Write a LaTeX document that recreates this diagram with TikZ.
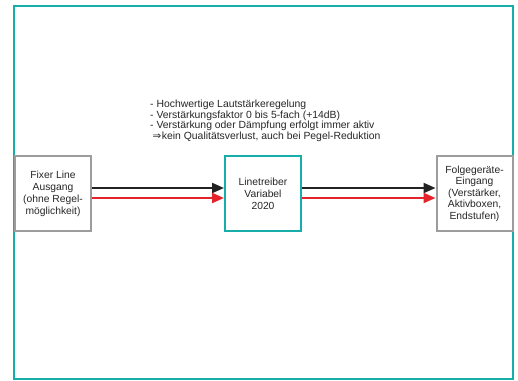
\documentclass[tikz,border=0pt]{standalone}
\usepackage{fontspec}
\setmainfont{Liberation Sans}
\newfontfamily\symfont{DejaVu Sans}
\usetikzlibrary{arrows.meta}
\definecolor{tealA}{HTML}{17ADA9}
\definecolor{grayA}{HTML}{9C9C9C}
\definecolor{redA}{HTML}{E5232A}
\definecolor{blackA}{HTML}{222222}
\begin{document}
\begin{tikzpicture}[x=1pt,y=-1pt,
  box/.style={draw, line width=2pt, minimum width=76pt, minimum height=75pt,
    inner sep=0pt, align=center, text=black!85, font=\fontsize{10.3}{12}\selectfont},
  graybox/.style={box, draw=grayA},
  tealbox/.style={box, draw=tealA},
  sig/.style={line width=2pt, -{Triangle[length=12pt,width=10pt]}},
  note/.style={anchor=north west, inner sep=0pt, align=left, text=black!85,
    font=\fontsize{10.4}{10.5}\selectfont}]
\useasboundingbox (0,0) rectangle (518,380);
\fill[white] (0,0) rectangle (518,380);
\draw[tealA, line width=2pt] (14,6) rectangle (513,379);

\node[graybox] (L) at (53,193.5) {Fixer Line\\Ausgang\\(ohne Regel-\\möglichkeit)};
\node[tealbox] (M) at (263,193.5) {Linetreiber\\Variabel\\2020};
\node[graybox, font=\fontsize{10.3}{11.5}\selectfont] (R) at (474.5,193.5) {Folgegeräte-\\Eingang\\(Verstärker,\\Aktivboxen,\\Endstufen)};

\node[note] (T) at (150,100) {- Hochwertige Lautstärkeregelung\\
- Verstärkungsfaktor 0 bis 5-fach (+14dB)\\
- Verstärkung oder Dämpfung erfolgt immer aktiv\\
\hspace*{2.5pt}{\symfont ⇒}\hspace{0.5pt}kein Qualitätsverlust, auch bei Pegel-Reduktion};

\draw[sig, blackA] ([yshift=5.5pt]L.east) -- ([yshift=5.5pt]M.west);
\draw[sig, redA] ([yshift=-4.5pt]L.east) -- ([yshift=-4.5pt]M.west);
\draw[sig, blackA] ([yshift=5.5pt]M.east) -- ([yshift=5.5pt]R.west);
\draw[sig, redA] ([yshift=-4.5pt]M.east) -- ([yshift=-4.5pt]R.west);
\end{tikzpicture}
\end{document}
